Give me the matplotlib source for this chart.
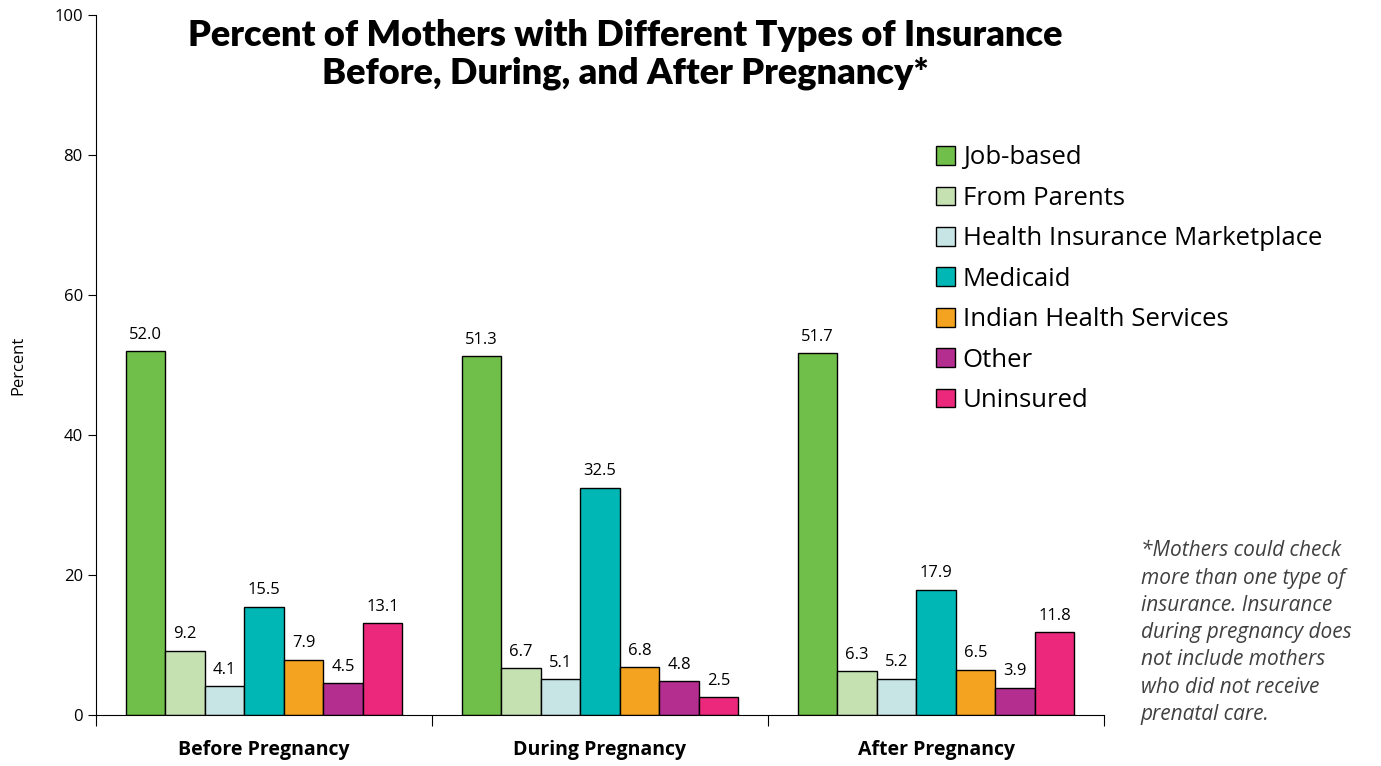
import numpy as np
import matplotlib.pyplot as plt

# data
periods = ["Before Pregnancy", "During Pregnancy", "After Pregnancy"]
types = ["Job-based", "From Parents", "Health Insurance Marketplace", "Medicaid",
         "Indian Health Services", "Other", "Uninsured"]
job_based = [52.0, 51.3, 51.7]
from_parents = [9.2, 6.7, 6.3]
marketplace = [4.1, 5.1, 5.2]
medicaid = [15.5, 32.5, 17.9]
ihs = [7.9, 6.8, 6.5]
other = [4.5, 4.8, 3.9]
uninsured = [13.1, 2.5, 11.8]
series = [job_based, from_parents, marketplace, medicaid, ihs, other, uninsured]
colors = ["#70BF4A", "#C5E1B2", "#C6E5E4", "#00B7B5", "#F3A320", "#B42E8F", "#EC287C"]

fig = plt.figure(figsize=(13.81, 7.66), dpi=100)
ax = fig.add_axes([0.0695, 0.0666, 0.73, 0.9134])

x = np.arange(len(periods))
bw = 0.1176
for i, vals in enumerate(series):
    pos = x + (i - 3) * bw
    ax.bar(pos, vals, width=bw, color=colors[i], edgecolor="black", linewidth=1,
           label=types[i])
    for p, v in zip(pos, vals):
        ax.text(p, v + 1.2, f"{v:.1f}", ha="center", va="bottom", fontsize=12,
                family="Open Sans")

ax.set_xlim(-0.5, 2.5)
ax.set_ylim(0, 100)
ax.set_yticks([0, 20, 40, 60, 80, 100])
ax.set_xticks([-0.5, 0.5, 1.5, 2.5])
ax.set_xticklabels([])
ax.set_xticks(x, minor=True)
ax.set_xticklabels(periods, minor=True, fontsize=14, fontweight="bold",
                   family="Open Sans")
ax.tick_params(axis="x", which="minor", length=0, pad=18)
ax.tick_params(axis="x", which="major", length=8, direction="out")
ax.tick_params(axis="y", labelsize=12, length=6)
for lab in ax.get_yticklabels():
    lab.set_family("Open Sans")
ax.spines["top"].set_visible(False)
ax.spines["right"].set_visible(False)
ax.set_ylabel("Percent", fontsize=12, family="Open Sans")
ax.yaxis.set_label_coords(-0.069, 0.5)

fig.text(0.453, 0.975, "Percent of Mothers with Different Types of Insurance\nBefore, During, and After Pregnancy*",
         ha="center", va="top", fontsize=26, fontweight="heavy", family="Lato",
         linespacing=1.15)

ax.legend(loc="upper left", bbox_to_anchor=(0.81, 0.847), frameon=False,
          prop={"family": "Open Sans", "size": 18.5}, handlelength=0.75,
          handleheight=0.75, handletextpad=0.3, labelspacing=0.6,
          bbox_transform=ax.transAxes)

fig.text(0.826, 0.174, "*Mothers could check\nmore than one type of\ninsurance. Insurance\nduring pregnancy does\nnot include mothers\nwho did not receive\nprenatal care.",
         ha="left", va="center", fontsize=15, style="italic", family="Open Sans",
         color="#404040", linespacing=1.39)

fig.savefig("out.png", dpi=100)
